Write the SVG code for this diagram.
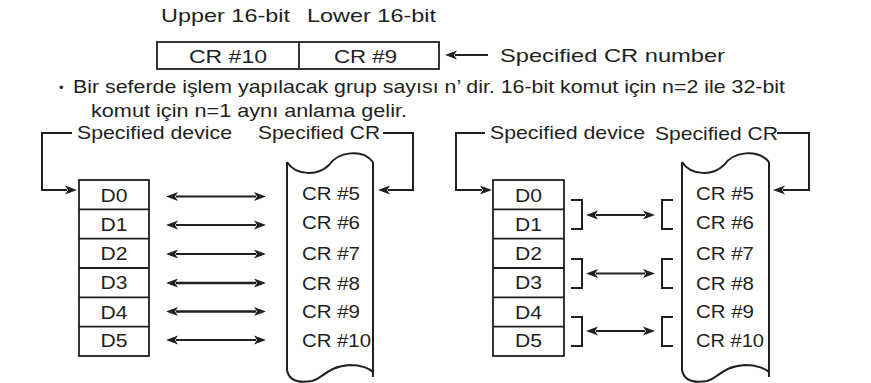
<svg xmlns="http://www.w3.org/2000/svg" width="871" height="383" viewBox="0 0 871 383">
<style>
text{font-family:"Liberation Sans",Arial,sans-serif;font-size:19px;fill:#231f20}
.m{text-anchor:middle}
.box{fill:none;stroke:#231f20;stroke-width:1.8}
.ln{fill:none;stroke:#231f20;stroke-width:2}
.ar{fill:none;stroke:#231f20;stroke-width:2;marker-end:url(#ah)}
.ar2{fill:none;stroke:#231f20;stroke-width:2;marker-start:url(#ah);marker-end:url(#ah)}
</style>
<defs>
<marker id="ah" markerUnits="userSpaceOnUse" markerWidth="14" markerHeight="12" refX="2" refY="6" orient="auto-start-reverse">
<path d="M0,1.5 L12,6 L0,10.5 L3,6 Z" fill="#231f20"/>
</marker>
</defs>
<rect width="871" height="383" fill="#fff"/>

<g id="header">
<text x="161" y="22" textLength="129" lengthAdjust="spacingAndGlyphs">Upper 16-bit</text>
<text x="307" y="22" textLength="129" lengthAdjust="spacingAndGlyphs">Lower 16-bit</text>
</g>
<g id="crpair">
<rect class="box" x="157" y="42" width="282" height="27"/>
<line class="box" x1="299" y1="42" x2="299" y2="69"/>
<text x="189" y="63" textLength="78" lengthAdjust="spacingAndGlyphs">CR #10</text>
<text x="334" y="63" textLength="63" lengthAdjust="spacingAndGlyphs">CR #9</text>
</g>
<g id="crlabel">
<text x="500" y="62" textLength="225" lengthAdjust="spacingAndGlyphs">Specified CR number</text>
</g>
<g id="note">
<text x="59" y="92" style="font-size:13px">•</text>
<text x="73" y="93" textLength="712" lengthAdjust="spacingAndGlyphs">Bir seferde işlem yapılacak grup sayısı n’ dir. 16-bit komut için n=2 ile 32-bit</text>
<text x="91" y="117" textLength="316" lengthAdjust="spacingAndGlyphs">komut için n=1 aynı anlama gelir.</text>
</g>

<g id="left-devlabel"><text x="77" y="139" textLength="155" lengthAdjust="spacingAndGlyphs">Specified device</text></g>
<g id="left-crlabel"><text x="258" y="139" textLength="122" lengthAdjust="spacingAndGlyphs">Specified CR</text></g>

<g id="left-dev">
<rect class="box" x="79" y="180" width="70" height="176"/>
<path class="box" d="M79,209.3H149M79,238.7H149M79,268H149M79,297.3H149M79,326.7H149"/>
<text class="m" x="114" y="201.5" textLength="27" lengthAdjust="spacingAndGlyphs">D0</text>
<text class="m" x="114" y="230.5" textLength="27" lengthAdjust="spacingAndGlyphs">D1</text>
<text class="m" x="114" y="260" textLength="27" lengthAdjust="spacingAndGlyphs">D2</text>
<text class="m" x="114" y="289" textLength="27" lengthAdjust="spacingAndGlyphs">D3</text>
<text class="m" x="114" y="318.5" textLength="27" lengthAdjust="spacingAndGlyphs">D4</text>
<text class="m" x="114" y="347" textLength="27" lengthAdjust="spacingAndGlyphs">D5</text>
</g>

<g id="left-cr">
<path class="ln" d="M287,162 C296,176 318,176 329,165 C338,152 362,148 373,162"/>
<path class="ln" d="M287,162V370 C289,381 300,383 312,381 C322,379 328,366 350,365 C362,365 370,369 373,372"/>
<path class="ln" d="M373,162V377"/>
<text x="302" y="200" textLength="58" lengthAdjust="spacingAndGlyphs">CR #5</text>
<text x="302" y="228.5" textLength="58" lengthAdjust="spacingAndGlyphs">CR #6</text>
<text x="302" y="260" textLength="58" lengthAdjust="spacingAndGlyphs">CR #7</text>
<text x="302" y="290" textLength="58" lengthAdjust="spacingAndGlyphs">CR #8</text>
<text x="302" y="317.5" textLength="58" lengthAdjust="spacingAndGlyphs">CR #9</text>
<text x="302" y="347" textLength="69" lengthAdjust="spacingAndGlyphs">CR #10</text>
</g>

<g id="right-devlabel"><text x="490" y="139" textLength="155" lengthAdjust="spacingAndGlyphs">Specified device</text></g>
<g id="right-crlabel"><text x="655" y="140" textLength="123" lengthAdjust="spacingAndGlyphs">Specified CR</text></g>

<g id="right-dev">
<rect class="box" x="493" y="180" width="71" height="176"/>
<path class="box" d="M493,209.3H564M493,238.7H564M493,268H564M493,297.3H564M493,326.7H564"/>
<text class="m" x="528.5" y="201.5" textLength="27" lengthAdjust="spacingAndGlyphs">D0</text>
<text class="m" x="528.5" y="230.5" textLength="27" lengthAdjust="spacingAndGlyphs">D1</text>
<text class="m" x="528.5" y="260" textLength="27" lengthAdjust="spacingAndGlyphs">D2</text>
<text class="m" x="528.5" y="289" textLength="27" lengthAdjust="spacingAndGlyphs">D3</text>
<text class="m" x="528.5" y="318.5" textLength="27" lengthAdjust="spacingAndGlyphs">D4</text>
<text class="m" x="528.5" y="347" textLength="27" lengthAdjust="spacingAndGlyphs">D5</text>
</g>

<g id="right-cr">
<path class="ln" d="M682,162 C691,176 713,176 724,165 C733,152 757,148 769,162"/>
<path class="ln" d="M682,162V370 C684,381 695,383 707,381 C717,379 723,366 745,365 C757,365 766,369 769,372"/>
<path class="ln" d="M769,162V377"/>
<text x="696" y="200" textLength="58" lengthAdjust="spacingAndGlyphs">CR #5</text>
<text x="696" y="228.5" textLength="58" lengthAdjust="spacingAndGlyphs">CR #6</text>
<text x="696" y="260" textLength="58" lengthAdjust="spacingAndGlyphs">CR #7</text>
<text x="696" y="290" textLength="58" lengthAdjust="spacingAndGlyphs">CR #8</text>
<text x="696" y="317.5" textLength="58" lengthAdjust="spacingAndGlyphs">CR #9</text>
<text x="696" y="347" textLength="68" lengthAdjust="spacingAndGlyphs">CR #10</text>
</g>

<g id="connectors">
<line class="ar" x1="488" y1="55" x2="455" y2="55"/>
<path class="ar" d="M72,133H42V190H67"/>
<path class="ar" d="M383,133H413V190H388"/>
<line class="ar2" x1="176" y1="196.5" x2="256" y2="196.5"/>
<line class="ar2" x1="176" y1="225" x2="256" y2="225"/>
<line class="ar2" x1="176" y1="254" x2="256" y2="254"/>
<line class="ar2" x1="176" y1="283" x2="256" y2="283" style="stroke-width:2.6"/>
<line class="ar2" x1="176" y1="311.5" x2="256" y2="311.5" style="stroke-width:2.6"/>
<line class="ar2" x1="176" y1="340" x2="256" y2="340"/>
<path class="ar" d="M485,133H456V190H482"/>
<path class="ar" d="M777,133H809V190H783"/>
<path class="ln" d="M571,200H582V229H571M571,259H582V288H571M571,317H582V346H571"/>
<path class="ln" d="M673,200H662V229H673M673,259H662V288H673M673,317H662V346H673"/>
<line class="ar2" x1="596" y1="215" x2="645" y2="215"/>
<line class="ar2" x1="596" y1="273.5" x2="645" y2="273.5"/>
<line class="ar2" x1="596" y1="331" x2="645" y2="331"/>
</g>
</svg>
